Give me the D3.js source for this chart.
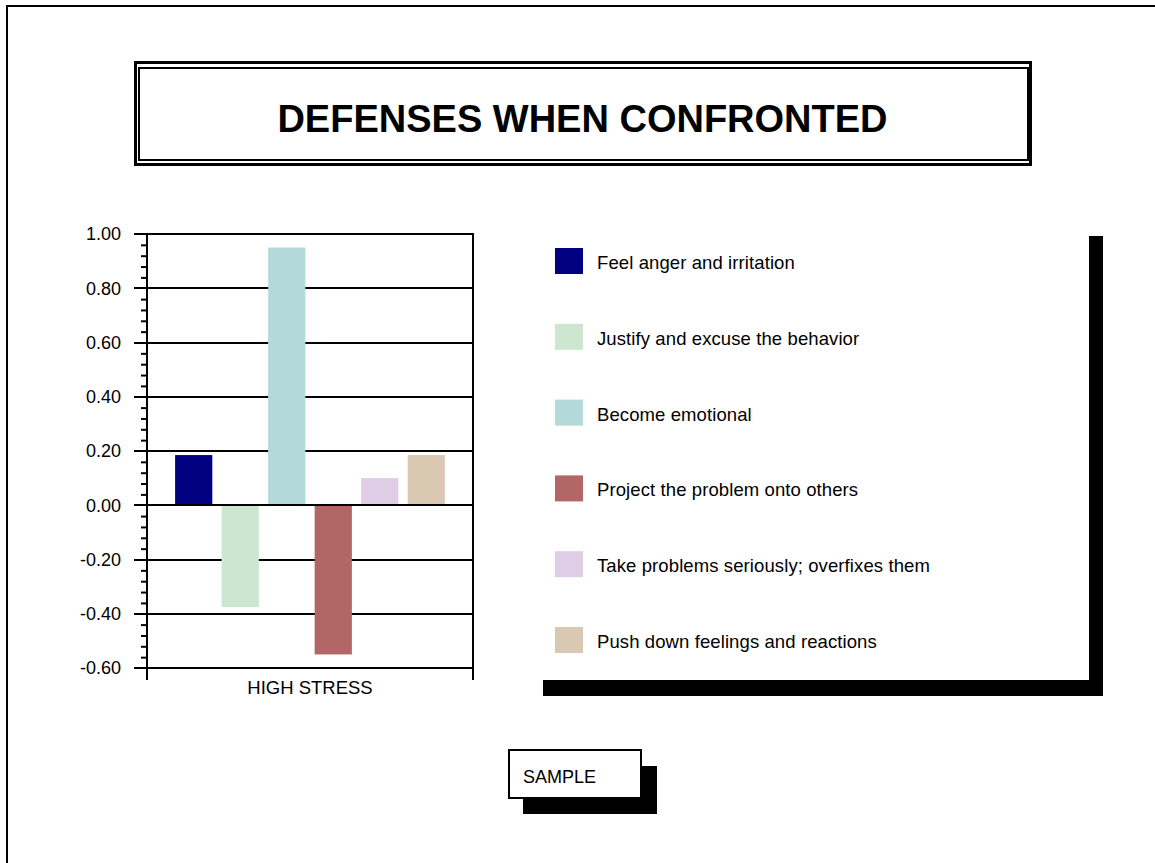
<!DOCTYPE html>
<html>
<head>
<meta charset="utf-8">
<script src="https://cdn.jsdelivr.net/npm/d3@7"></script>
<style>
  html, body { margin: 0; padding: 0; background: #fff; }
  svg { display: block; font-family: "Liberation Sans", Arial, sans-serif; }
</style>
</head>
<body>
<svg id="chart" width="1155" height="863"></svg>
<script>
// Chart content
const titleText = "DEFENSES WHEN CONFRONTED";
const categories = ["HIGH STRESS"];
const seriesNames = [
  "Feel anger and irritation",
  "Justify and excuse the behavior",
  "Become emotional",
  "Project the problem onto others",
  "Take problems seriously; overfixes them",
  "Push down feelings and reactions"
];
const seriesValues = [0.185, -0.375, 0.95, -0.55, 0.10, 0.185];
const seriesColors = ["#000080", "#cde6d0", "#b3d9d9", "#b36666", "#dfcde6", "#d9c9b3"];
const majorTicks = [1.00, 0.80, 0.60, 0.40, 0.20, 0.00, -0.20, -0.40, -0.60];
const stampText = "SAMPLE";

const svg = d3.select("#chart");

// Page frame (open toward right and bottom edges)
svg.append("rect")
  .attr("x", 7).attr("y", 6).attr("width", 1200).attr("height", 900)
  .attr("fill", "none").attr("stroke", "#000").attr("stroke-width", 2);

// Title with double frame
svg.append("rect")
  .attr("x", 135.5).attr("y", 62.5).attr("width", 895).attr("height", 102)
  .attr("fill", "#fff").attr("stroke", "#000").attr("stroke-width", 3);
svg.append("rect")
  .attr("x", 139).attr("y", 68).attr("width", 889).attr("height", 92)
  .attr("fill", "none").attr("stroke", "#000").attr("stroke-width", 2);
svg.append("text")
  .attr("x", 582.5).attr("y", 132)
  .attr("text-anchor", "middle")
  .attr("font-size", 38).attr("font-weight", "bold")
  .attr("fill", "#000")
  .text(titleText);

// Plot geometry
const plotLeft = 147, plotRight = 473, plotTop = 234, plotBottom = 668, axisEnd = 680;

const y = d3.scaleLinear().domain([-0.6, 1.0]).range([plotBottom, plotTop]);
const x0 = d3.scaleBand().domain(categories).range([plotLeft, plotRight]).paddingInner(0).paddingOuter(0.084);
const x1 = d3.scaleBand().domain(seriesNames).range([0, x0.bandwidth()]).paddingInner(0.2).paddingOuter(0.1);

const plot = svg.append("g");

// Horizontal grid lines at the major values
plot.append("g").selectAll("line")
  .data(majorTicks.filter(v => v !== 0))
  .join("line")
  .attr("x1", plotLeft - 13).attr("x2", plotRight)
  .attr("y1", d => Math.round(y(d))).attr("y2", d => Math.round(y(d)))
  .attr("stroke", "#000").attr("stroke-width", 2);

// Minor ticks every 0.04
const minorTicks = d3.range(-0.6, 1.0001, 0.04)
  .map(v => +v.toFixed(2))
  .filter(v => !majorTicks.some(m => Math.abs(m - v) < 1e-6));

const yAxisMinor = d3.axisLeft(y).tickValues(minorTicks).tickSize(6).tickFormat("");
const minorG = plot.append("g").attr("transform", `translate(${plotLeft},0)`).call(yAxisMinor);
minorG.select(".domain").remove();
minorG.selectAll(".tick line").attr("stroke", "#000").attr("stroke-width", 2);

// Bars
const group = plot.append("g")
  .selectAll("g")
  .data(categories)
  .join("g")
  .attr("transform", d => `translate(${x0(d)},0)`);

group.selectAll("rect")
  .data(() => seriesNames.map((name, i) => ({ name, value: seriesValues[i], color: seriesColors[i] })))
  .join("rect")
  .attr("x", d => x1(d.name))
  .attr("width", x1.bandwidth())
  .attr("y", d => y(Math.max(0, d.value)))
  .attr("height", d => Math.abs(y(d.value) - y(0)))
  .attr("fill", d => d.color);

// Zero line drawn over the bars
plot.append("line")
  .attr("x1", plotLeft - 13).attr("x2", plotRight)
  .attr("y1", Math.round(y(0))).attr("y2", Math.round(y(0)))
  .attr("stroke", "#000").attr("stroke-width", 2);

// Major tick labels (plain hyphen for negatives)
const fmt = d3.format(".2f");
const yAxisMajor = d3.axisLeft(y).tickValues(majorTicks).tickSize(0).tickPadding(26)
  .tickFormat(d => fmt(d).replace("\u2212", "-"));
const majorG = plot.append("g").attr("transform", `translate(${plotLeft},0)`).call(yAxisMajor);
majorG.select(".domain").remove();
majorG.selectAll(".tick text")
  .attr("font-family", "'Liberation Sans', Arial, sans-serif")
  .attr("font-size", 18).attr("fill", "#000");

// Vertical axis and right frame
plot.append("line")
  .attr("x1", plotLeft).attr("x2", plotLeft)
  .attr("y1", plotTop - 1).attr("y2", axisEnd)
  .attr("stroke", "#000").attr("stroke-width", 2);
plot.append("line")
  .attr("x1", plotRight).attr("x2", plotRight)
  .attr("y1", plotTop - 1).attr("y2", axisEnd)
  .attr("stroke", "#000").attr("stroke-width", 2);

// Category label
const xAxis = d3.axisBottom(x0).tickSize(0).tickPadding(0);
const xG = plot.append("g").attr("transform", `translate(0,${axisEnd})`).call(xAxis);
xG.select(".domain").remove();
xG.selectAll(".tick text")
  .attr("dy", null).attr("y", 14)
  .attr("font-family", "'Liberation Sans', Arial, sans-serif")
  .attr("font-size", 18.5).attr("fill", "#000");

// Legend panel with drop shadow
svg.append("rect")
  .attr("x", 543).attr("y", 236).attr("width", 560).attr("height", 460)
  .attr("fill", "#000");
svg.append("rect")
  .attr("x", 527).attr("y", 220).attr("width", 562).attr("height", 460)
  .attr("fill", "#fff");

const legendRow = d3.scalePoint().domain(seriesNames).range([261, 640]);
const legend = svg.append("g")
  .selectAll("g")
  .data(seriesNames)
  .join("g")
  .attr("transform", d => `translate(555,${legendRow(d)})`);
legend.append("rect")
  .attr("x", 0).attr("y", -13).attr("width", 28).attr("height", 26)
  .attr("fill", (d, i) => seriesColors[i]);
legend.append("text")
  .attr("x", 42).attr("y", 8)
  .attr("font-size", 18.5).attr("fill", "#000")
  .attr("letter-spacing", 0.1)
  .text(d => d);

// Stamp box with drop shadow
svg.append("rect")
  .attr("x", 523).attr("y", 766).attr("width", 134).attr("height", 48)
  .attr("fill", "#000");
svg.append("rect")
  .attr("x", 509).attr("y", 750).attr("width", 132).attr("height", 48)
  .attr("fill", "#fff").attr("stroke", "#000").attr("stroke-width", 2);
svg.append("text")
  .attr("x", 523).attr("y", 783)
  .attr("font-size", 18).attr("fill", "#000")
  .text(stampText);
</script>
</body>
</html>
